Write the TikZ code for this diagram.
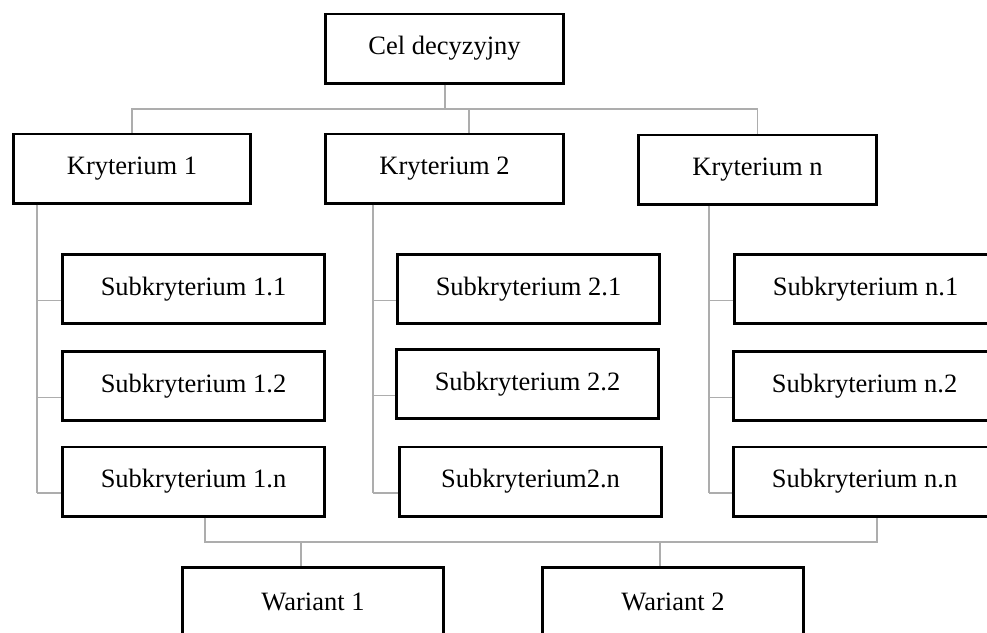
\documentclass[tikz,border=0pt]{standalone}
\usepackage{fontspec}
\setmainfont{Liberation Serif}
\usetikzlibrary{calc}

\tikzset{
  box/.style={draw, line width=2.6pt, inner sep=0pt, minimum width=#1-2.6pt,
    minimum height=69.4pt, font=\fontsize{26.5}{30}\selectfont},
  box/.default=240pt,
  conn/.style={draw=black!32, line width=1.2pt}
}

\begin{document}
\begin{tikzpicture}[x=1pt,y=-1pt]
        \useasboundingbox (0,0) rectangle (987,632);
        \clip (0,0) rectangle (987,632);
        % goal and criteria
        \node[box=241pt] (cel) at (444.5,48.5) {Cel decyzyjny};
        \node[box] (k1) at (132,168.5) {Kryterium 1};
        \node[box=241pt] (k2) at (444.5,168.5) {Kryterium 2};
        \node[box=241pt] (kn) at (757.5,169.5) {Kryterium n};
        % subcriteria
        \node[box=265pt] (s11) at (193.5,289) {Subkryterium 1.1};
        \node[box=265pt] (s12) at (193.5,386) {Subkryterium 1.2};
        \node[box=265pt] (s1n) at (193.5,481.5) {Subkryterium 1.n};
        \node[box=265pt] (s21) at (528.5,289) {Subkryterium 2.1};
        \node[box=265pt] (s22) at (527.5,384) {Subkryterium 2.2};
        \node[box=265pt] (s2n) at (530.5,481.5) {Subkryterium2.n};
        \node[box=265pt] (sn1) at (865.5,289) {Subkryterium n.1};
        \node[box=265pt] (sn2) at (864.5,386) {Subkryterium n.2};
        \node[box=265pt] (snn) at (864.5,481.5) {Subkryterium n.n};
        % variants
        \node[box=264pt] (w1) at (313,602) {Wariant 1};
        \node[box=264pt] (w2) at (673,602) {Wariant 2};
        % top bus
        \coordinate (top) at (445,109);
        \coordinate (t2) at ([xshift=24.5pt]k2.north);
        \draw[conn] (cel.south -| top) -- (top);
        \draw[conn] (k1.north) |- (top) -| (kn.north);
        \draw[conn] (t2) -- (t2 |- top);
        % spines
        \foreach \k/\dx/\s in {k1/25/s1, k2/49/s2, kn/72/sn} {
            \coordinate (sp-\k) at ([xshift=\dx pt]\k.south west);
            \foreach \j in {1,2,n} {
                \coordinate (b-\s\j) at ([yshift=-11.5pt]\s\j.west);
                \draw[conn] (b-\s\j) -- (b-\s\j -| sp-\k);
            }
            \draw[conn] (sp-\k) -- (sp-\k |- b-\s n);
        }
        % bottom bus
        \coordinate (bot) at (0,542);
        \coordinate (u1) at ([xshift=11.5pt]s1n.south);
        \coordinate (u2) at ([xshift=12.5pt]snn.south);
        \coordinate (d1) at ([xshift=-12pt]w1.north);
        \coordinate (d2) at ([xshift=-13pt]w2.north);
        \draw[conn] (u1) |- (bot -| u2) -- (u2);
        \draw[conn] (d1) -- (d1 |- bot);
        \draw[conn] (d2) -- (d2 |- bot);
    \end{tikzpicture}
\end{document}
